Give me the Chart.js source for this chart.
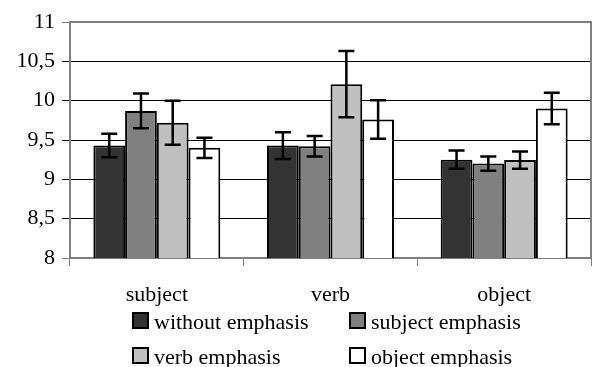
<!DOCTYPE html>
<html>
<head>
<meta charset="utf-8">
<script src="https://cdn.jsdelivr.net/npm/chart.js@4"></script>
<style>
  html, body { margin: 0; padding: 0; background: #ffffff; }
  #wrap { width: 592px; height: 367px; }
</style>
</head>
<body>
<div id="wrap"><canvas id="chart" width="592" height="367"></canvas></div>
<script>
// Sentence position categories
const categories = ['subject', 'verb', 'object'];

// Mean values per emphasis condition
const withoutEmphasis = [9.43, 9.43, 9.25];
const subjectEmphasis = [9.87, 9.42, 9.20];
const verbEmphasis    = [9.72, 10.21, 9.245];
const objectEmphasis  = [9.40, 9.76, 9.90];

// Error bar half-widths per condition
const withoutError = [0.15, 0.17, 0.115];
const subjectError = [0.22, 0.13, 0.09];
const verbError    = [0.28, 0.42, 0.11];
const objectError  = [0.13, 0.245, 0.20];

// Y axis tick labels (decimal comma)
const yTickLabels = ['8', '8,5', '9', '9,5', '10', '10,5', '11'];

const seriesNames = ['without emphasis', 'subject emphasis', 'verb emphasis', 'object emphasis'];
const seriesColors = ['#333333', '#808080', '#c0c0c0', '#ffffff'];
const seriesValues = [withoutEmphasis, subjectEmphasis, verbEmphasis, objectEmphasis];
const seriesErrors = [withoutError, subjectError, verbError, objectError];

const FONT = "'Liberation Serif', 'Times New Roman', serif";

// Vertical error bars with caps, placed through the value scale
const errorBars = {
  id: 'errorBars',
  afterDatasetsDraw(chart) {
    const ctx = chart.ctx;
    const y = chart.scales.y;
    ctx.save();
    ctx.strokeStyle = '#000000';
    ctx.lineWidth = 2.5;
    chart.data.datasets.forEach((ds, i) => {
      const meta = chart.getDatasetMeta(i);
      meta.data.forEach((bar, j) => {
        const v = ds.data[j];
        const e = ds.errors[j];
        const top = y.getPixelForValue(v + e);
        const bot = y.getPixelForValue(v - e);
        const cap = 8;
        ctx.beginPath();
        ctx.moveTo(bar.x, top); ctx.lineTo(bar.x, bot);
        ctx.moveTo(bar.x - cap, top); ctx.lineTo(bar.x + cap, top);
        ctx.moveTo(bar.x - cap, bot); ctx.lineTo(bar.x + cap, bot);
        ctx.stroke();
      });
    });
    ctx.restore();
  }
};

// Grey frame around the plotting area
const plotFrame = {
  id: 'plotFrame',
  afterDraw(chart) {
    const a = chart.chartArea;
    const ctx = chart.ctx;
    ctx.save();
    ctx.strokeStyle = '#808080';
    ctx.lineWidth = 2;
    ctx.beginPath();
    ctx.moveTo(a.left, a.top);
    ctx.lineTo(a.right, a.top);
    ctx.lineTo(a.right, a.bottom);
    ctx.stroke();
    ctx.restore();
  }
};

// Two-column legend under the category labels
const gridLegend = {
  id: 'gridLegend',
  afterDraw(chart) {
    const ctx = chart.ctx;
    const colX = [132, 349];
    const rowBase = [329, 364];
    const box = 15;
    ctx.save();
    ctx.font = '22px ' + FONT;
    ctx.textBaseline = 'alphabetic';
    ctx.textAlign = 'left';
    chart.data.datasets.forEach((ds, i) => {
      const cx = colX[i % 2];
      const by = rowBase[Math.floor(i / 2)];
      ctx.fillStyle = ds.backgroundColor;
      ctx.fillRect(cx + 1, by - 16, box, box);
      ctx.strokeStyle = '#000000';
      ctx.lineWidth = 2;
      ctx.strokeRect(cx + 1, by - 16, box, box);
      ctx.fillStyle = '#000000';
      ctx.fillText(ds.label, cx + 22, by);
    });
    ctx.restore();
  }
};

new Chart(document.getElementById('chart'), {
  type: 'bar',
  data: {
    labels: categories,
    datasets: seriesNames.map((name, i) => ({
      label: name,
      data: seriesValues[i],
      errors: seriesErrors[i],
      backgroundColor: seriesColors[i],
      borderColor: '#000000',
      borderWidth: 2,
      borderSkipped: false,
      barPercentage: 1,
      categoryPercentage: 0.731
    }))
  },
  options: {
    responsive: false,
    animation: false,
    layout: { padding: { top: 22, right: 1, bottom: 57, left: 0 } },
    plugins: {
      legend: { display: false },
      tooltip: { enabled: false }
    },
    scales: {
      x: {
        afterFit(s) { s.height = 52; },
        grid: {
          offset: true,
          drawOnChartArea: false,
          drawTicks: true,
          tickLength: 8,
          color: '#808080',
          lineWidth: 1
        },
        border: { color: '#808080', width: 2 },
        ticks: {
          color: '#000000',
          padding: 16,
          font: { family: FONT, size: 22 }
        }
      },
      y: {
        min: 8,
        max: 11,
        afterFit(s) { s.width = 70; },
        grid: {
          tickLength: 8,
          color: (c) => (c.index === 0 || c.index === yTickLabels.length - 1) ? '#808080' : '#000000',
          lineWidth: 1
        },
        border: { color: '#808080', width: 2 },
        ticks: {
          stepSize: 0.5,
          color: '#000000',
          padding: 7,
          font: { family: FONT, size: 22 },
          callback: (v, i) => yTickLabels[i]
        }
      }
    }
  },
  plugins: [errorBars, plotFrame, gridLegend]
});
</script>
</body>
</html>
